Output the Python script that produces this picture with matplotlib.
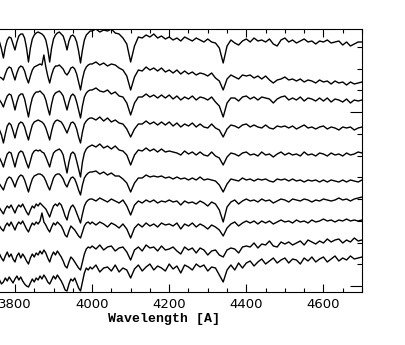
import numpy as np
import matplotlib
matplotlib.use('Agg')
import matplotlib.pyplot as plt
from matplotlib.ticker import MultipleLocator

# wavelength grid (A): 5 A steps in the crowded blue part, 10 A steps redward of 4000
wavelength = np.concatenate([np.arange(3760, 4000, 5), np.arange(4000, 4701, 10)])

# relative flux + offset (arbitrary units), one array per star, top to bottom
star01 = [250, 243, 234, 245, 252, 255, 254, 248, 242, 250, 256, 258,
          258, 254, 244, 230, 244, 253, 257, 259, 260, 259, 258, 256,
          252, 243, 230, 244, 253, 257, 259, 260, 258, 256, 250, 242,
          251, 256, 257, 255, 250, 241, 229, 242, 252, 257, 259, 261] + \
         [261, 263, 260, 262, 261, 263, 259, 258, 254, 248,
          230, 246, 255, 254, 257, 255, 258, 254, 256, 253,
          255, 252, 254, 251, 255, 253, 251, 254, 252, 250,
          253, 250, 249, 244, 229, 246, 252, 249, 247, 251,
          253, 250, 254, 251, 252, 250, 253, 248, 246, 252,
          254, 250, 252, 249, 251, 253, 250, 251, 248, 251,
          250, 252, 249, 250, 251, 247, 250, 246, 248, 250, 250]

star02 = [215, 214, 212, 218, 223, 225, 224, 218, 212, 219, 224, 226,
          225, 221, 214, 209, 216, 222, 225, 226, 227, 228, 227, 237,
          225, 216, 209, 217, 223, 226, 226, 227, 225, 223, 219, 217,
          220, 224, 225, 223, 218, 210, 202, 213, 221, 225, 227, 228] + \
         [228, 230, 227, 229, 226, 228, 227, 224, 222, 216,
          202, 215, 222, 221, 225, 222, 224, 221, 224, 220,
          222, 219, 222, 218, 221, 218, 220, 217, 219, 218,
          216, 219, 214, 211, 202, 213, 217, 215, 213, 217,
          216, 217, 214, 216, 213, 216, 212, 209, 212, 213,
          215, 212, 213, 211, 213, 210, 212, 211, 209, 212,
          210, 211, 208, 211, 209, 210, 207, 210, 208, 209, 210]

star03 = [192, 189, 185, 191, 196, 198, 197, 190, 182, 190, 196, 198,
          198, 193, 184, 175, 186, 194, 198, 200, 200, 201, 199, 197,
          192, 184, 177, 188, 196, 199, 200, 201, 199, 196, 189, 182,
          190, 196, 198, 196, 190, 182, 174, 186, 195, 199, 201, 202] + \
         [202, 204, 201, 200, 202, 198, 200, 196, 195, 189,
          177, 189, 195, 195, 198, 195, 197, 194, 197, 194,
          197, 193, 196, 192, 195, 193, 196, 192, 195, 194,
          192, 195, 190, 186, 175, 189, 194, 194, 191, 195,
          196, 193, 195, 192, 195, 194, 193, 189, 193, 195,
          196, 192, 194, 192, 195, 191, 194, 193, 191, 194,
          191, 194, 190, 193, 192, 190, 193, 189, 192, 191, 192]

star04 = [162, 157, 149, 158, 166, 169, 167, 161, 154, 162, 168, 170,
          169, 165, 158, 152, 160, 167, 170, 171, 172, 171, 170, 168,
          164, 158, 152, 161, 168, 171, 172, 171, 170, 167, 163, 159,
          164, 169, 170, 168, 163, 155, 149, 160, 168, 171, 173, 174] + \
         [174, 172, 175, 171, 174, 170, 172, 169, 168, 163,
          155, 163, 168, 168, 171, 168, 170, 167, 170, 167,
          170, 166, 169, 165, 168, 166, 169, 165, 168, 165,
          164, 168, 164, 162, 155, 163, 167, 166, 164, 167,
          168, 165, 167, 165, 164, 167, 164, 163, 166, 165,
          166, 164, 166, 163, 165, 167, 164, 165, 163, 165,
          166, 163, 165, 164, 162, 165, 164, 165, 162, 164, 165]

star05 = [134, 130, 125, 132, 138, 140, 139, 132, 125, 133, 139, 141,
          140, 135, 129, 124, 131, 138, 141, 142, 141, 142, 140, 139,
          135, 130, 125, 133, 139, 141, 142, 143, 141, 137, 128, 119,
          130, 138, 140, 138, 131, 123, 115, 130, 139, 143, 145, 146] + \
         [147, 145, 148, 144, 146, 143, 146, 142, 141, 137,
          127, 137, 142, 141, 144, 141, 143, 140, 143, 140,
          141, 140, 139, 137, 141, 138, 140, 137, 140, 137,
          136, 140, 136, 134, 127, 135, 139, 138, 136, 139,
          140, 137, 138, 136, 140, 137, 138, 135, 138, 140,
          137, 139, 137, 138, 136, 140, 137, 138, 136, 139,
          138, 136, 139, 137, 138, 136, 139, 137, 138, 140, 139]

star06 = [108, 105, 102, 108, 113, 115, 114, 110, 105, 111, 115, 117,
          116, 112, 106, 100, 107, 113, 116, 117, 118, 118, 117, 115,
          111, 106, 102, 108, 114, 117, 118, 118, 116, 113, 108, 105,
          110, 114, 115, 113, 108, 102, 97, 107, 114, 117, 119, 120] + \
         [120, 121, 118, 120, 117, 119, 116, 116, 113, 109,
          100, 109, 114, 114, 117, 115, 116, 115, 116, 114,
          115, 113, 115, 113, 114, 112, 114, 112, 115, 112,
          113, 112, 111, 107, 100, 108, 113, 112, 111, 114,
          112, 113, 111, 113, 112, 113, 111, 110, 113, 112,
          113, 111, 113, 111, 112, 110, 112, 111, 112, 110,
          112, 110, 112, 111, 110, 112, 110, 112, 111, 110, 112]

star07 = [84, 81, 78, 83, 86, 84, 87, 83, 79, 84, 87, 85,
          88, 84, 80, 77, 82, 86, 84, 88, 86, 89, 87, 85,
          83, 79, 75, 81, 86, 88, 86, 89, 87, 82, 76, 72,
          80, 85, 87, 84, 79, 74, 69, 78, 86, 90, 92, 93] + \
         [93, 91, 94, 92, 90, 93, 91, 89, 92, 86,
          77, 87, 91, 89, 92, 90, 92, 89, 91, 90,
          92, 90, 91, 87, 91, 89, 90, 88, 91, 89,
          86, 90, 88, 82, 70, 85, 90, 92, 88, 91,
          93, 91, 92, 90, 93, 91, 92, 89, 91, 93,
          92, 90, 93, 92, 91, 93, 92, 90, 92, 91,
          93, 92, 91, 92, 94, 92, 93, 91, 93, 94, 95]

star08 = [66, 63, 61, 66, 69, 66, 70, 66, 62, 67, 70, 68,
          71, 67, 63, 60, 65, 69, 67, 70, 68, 71, 79, 70,
          67, 63, 60, 65, 69, 67, 70, 68, 66, 62, 57, 55,
          61, 66, 64, 62, 59, 56, 54, 60, 66, 69, 70, 68] + \
         [70, 67, 70, 68, 65, 69, 67, 64, 68, 63,
          54, 64, 68, 65, 69, 66, 68, 65, 69, 67,
          68, 66, 69, 63, 68, 66, 69, 65, 68, 66,
          63, 67, 65, 62, 56, 64, 68, 70, 66, 69,
          71, 69, 71, 68, 71, 69, 71, 68, 70, 72,
          70, 71, 69, 72, 70, 71, 69, 72, 70, 71,
          73, 71, 72, 70, 72, 71, 73, 71, 72, 71, 72]

star09 = [38, 34, 31, 36, 40, 35, 38, 33, 30, 36, 39, 34,
          38, 35, 31, 28, 34, 38, 35, 39, 37, 41, 38, 42,
          39, 34, 30, 36, 40, 37, 41, 38, 35, 31, 26, 24,
          30, 35, 33, 30, 27, 24, 22, 30, 38, 43, 45, 44] + \
         [46, 43, 47, 42, 45, 46, 41, 44, 45, 40,
          32, 42, 45, 41, 47, 44, 45, 41, 46, 42,
          43, 45, 41, 38, 45, 42, 44, 39, 44, 42,
          37, 41, 42, 37, 35, 42, 44, 43, 39, 45,
          46, 45, 49, 44, 48, 47, 51, 46, 45, 50,
          48, 50, 47, 49, 51, 47, 52, 50, 48, 51,
          49, 53, 50, 52, 53, 49, 52, 50, 54, 51, 52]

star10 = [12, 8, 10, 14, 11, 15, 12, 9, 13, 16, 12, 15,
          11, 8, 6, 5, 9, 13, 10, 14, 12, 16, 13, 17,
          14, 10, 8, 12, 16, 13, 17, 14, 11, 7, 2, 1,
          8, 13, 11, 14, 9, 4, 1, 10, 19, 24, 22, 25] + \
         [23, 27, 20, 24, 25, 21, 27, 20, 24, 22,
          14, 23, 27, 21, 25, 28, 22, 26, 24, 21,
          28, 23, 26, 19, 27, 25, 22, 28, 25, 27,
          21, 25, 24, 17, 10, 22, 27, 22, 29, 24,
          29, 31, 26, 30, 33, 28, 31, 34, 29, 32,
          34, 29, 33, 32, 28, 34, 31, 35, 30, 33,
          35, 30, 33, 36, 31, 34, 32, 36, 33, 34, 35]

spectra = [star01, star02, star03, star04, star05,
           star06, star07, star08, star09, star10]

fig = plt.figure(figsize=(4.05, 3.45), dpi=100)
# the axes run off the left edge of the picture, like the cropped original
ax = fig.add_axes([-34 / 405, 53 / 345, 396 / 405, 263 / 345])

for flux in spectra:
    ax.plot(wavelength, flux, color='black', lw=1.0)

ax.set_xlim(3673, 4700)
ax.set_ylim(0, 263)
ax.xaxis.set_major_locator(MultipleLocator(200))
ax.xaxis.set_minor_locator(MultipleLocator(50))
ax.set_yticks([6, 180])
ax.set_yticks(np.arange(6, 263, 21.75), minor=True)
ax.tick_params(which='both', direction='in', top=True, right=True, width=0.8, colors='black')
ax.tick_params(axis='x', which='major', length=5.8, labelsize=9.5, pad=4)
ax.tick_params(axis='x', which='minor', length=3)
ax.tick_params(axis='y', which='major', length=8.6, labelleft=False)
ax.tick_params(axis='y', which='minor', length=3.6)
for sp in ax.spines.values():
    sp.set_linewidth(0.8)

ax.set_xlabel('Wavelength [A]', fontfamily='Liberation Mono', fontweight='bold', fontsize=9.5)
ax.xaxis.set_label_coords(0.5, -0.08)

fig.savefig('out.png', dpi=100)
